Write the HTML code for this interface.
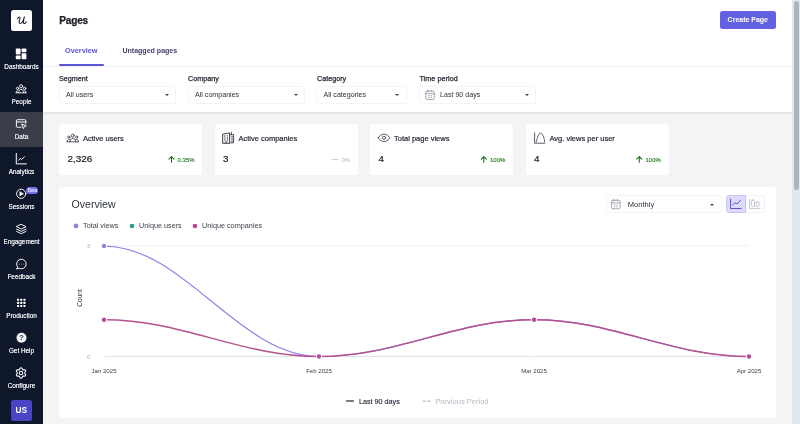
<!DOCTYPE html>
<html>
<head>
<meta charset="utf-8">
<title>Pages</title>
<style>
*{box-sizing:border-box;margin:0;padding:0}
html,body{width:800px;height:424px;overflow:hidden;background:#f4f4f5;font-family:"Liberation Sans",sans-serif;color:#1f2430}
body{position:relative}
.abs{position:absolute}
/* sidebar */
#side{position:absolute;left:0;top:0;width:43px;height:424px;background:#0f172a}
#logo{position:absolute;left:11.1px;top:10px;width:20.6px;height:20.7px;background:#fff;border-radius:2.5px}
.nav{position:absolute;left:0;width:43px;text-align:center;color:#fff;font-size:6.4px;font-weight:bold;line-height:8px;white-space:nowrap}
.nav svg{position:absolute;left:50%;transform:translateX(-50%)}
.nav span{position:absolute;left:0;width:43px;text-align:center}
.nl{position:absolute;left:-10px;width:63px;text-align:center;color:#e9ebef;font-size:6.4px;line-height:9px;white-space:nowrap;text-shadow:0 0 .3px #e9ebef}
#active{position:absolute;left:0;top:112px;width:43px;height:35px;background:#3a3e48}
/* header */
#head{position:absolute;left:43px;top:0;width:749px;height:112px;background:#fff;box-shadow:0 1px 2.5px rgba(0,0,0,.1)}
#title{position:absolute;left:59.3px;top:14.1px;font-size:10.1px;font-weight:bold;line-height:14px;color:#1a1d26;letter-spacing:-.2px;-webkit-text-stroke:.25px #1a1d26}
#create{position:absolute;left:720px;top:11px;width:56px;height:17.5px;background:#6361e2;border-radius:2.5px;color:#fff;font-size:7px;font-weight:bold;text-align:center;line-height:17.5px}
.tab{position:absolute;top:45.8px;font-size:7.3px;font-weight:bold;line-height:10px;white-space:nowrap}
#tabline{position:absolute;left:59px;top:64px;width:45px;height:2px;background:#5b57d6;border-radius:1px}
#hr{position:absolute;left:43px;top:66px;width:749px;height:1px;background:#f0f1f4}
.lbl{position:absolute;top:73.9px;font-size:7.2px;line-height:10px;color:#1f2430;white-space:nowrap;-webkit-text-stroke:.25px #1f2430}
.sel{position:absolute;top:86px;height:17.6px;border:1px solid #f3f4f7;border-radius:2.5px;background:#fff;font-size:7.1px;line-height:16.8px;color:#2a2f3a;white-space:nowrap}
.sel .t{position:absolute;top:0}
.caret{position:absolute;width:0;height:0;border-left:2.2px solid transparent;border-right:2.2px solid transparent;border-top:2.4px solid #3a3f4a}
/* cards */
.card{position:absolute;top:124.15px;width:143.4px;height:50.85px;background:#fff;border-radius:3px;}
.card .h{position:absolute;top:9.6px;font-size:7.5px;line-height:10px;color:#1f2430;white-space:nowrap;-webkit-text-stroke:.2px #1f2430}
.card .v{position:absolute;left:8.6px;top:29.1px;font-size:9.9px;line-height:12px;color:#1a1d26;-webkit-text-stroke:.2px #1a1d26}
.card .d{position:absolute;top:31.5px;font-size:6px;line-height:8px;color:#2c802c;white-space:nowrap;-webkit-text-stroke:.15px #2c802c}
.lg{position:absolute;top:221px;font-size:7.25px;line-height:10px;color:#3a3f4a;white-space:nowrap}
#ov{position:absolute;left:59px;top:187.2px;width:717.3px;height:231px;background:#fff;border-radius:3px}
</style>
</head>
<body>
<div id="root" style="position:absolute;left:0;top:0;width:800px;height:424px;will-change:transform">
<div id="side">
  <div id="logo"></div>
  <div id="active"></div>
  <svg class="abs" style="left:0;top:0" width="43" height="424" viewBox="0 0 43 424" fill="none" stroke="#fff" stroke-width="1" stroke-linecap="round" stroke-linejoin="round">
    <path d="M17.6 18.8 C18 17.5 19.2 16.7 19.9 17.3 C20.7 18 19.1 20.4 19.1 22 C19.1 23.5 20.3 23.8 21.3 23.1 C22.7 22.1 23.8 19.4 24.4 16.9 C23.7 19.5 22.7 23.5 24.1 23.5 C24.9 23.5 25.6 22.9 26.2 21.9" stroke="#161b2c" stroke-width="1.05" fill="none"/>
    <!-- dashboards -->
    <g fill="#fff" stroke="none">
      <rect x="15.8" y="48.4" width="4.8" height="6" rx=".8"/>
      <rect x="15.8" y="55.4" width="4.8" height="3.8" rx=".8"/>
      <rect x="21.6" y="48.4" width="4.8" height="3.8" rx=".8"/>
      <rect x="21.6" y="53.2" width="4.8" height="6" rx=".8"/>
    </g>
    <!-- people -->
    <g stroke-width=".9">
      <circle cx="21.1" cy="86.3" r="1.55"/>
      <circle cx="17.6" cy="88.4" r="1.2"/>
      <circle cx="24.6" cy="88.4" r="1.2"/>
      <path d="M18.7 92.7 C18.7 90.3 19.7 89.4 21.1 89.4 C22.5 89.4 23.5 90.3 23.5 92.7"/>
      <path d="M16.2 92.7 C16.2 91.2 16.8 90.7 17.6 90.7 M26 92.7 C26 91.2 25.4 90.7 24.6 90.7"/>
      <path d="M16.1 92.8 H26.1"/>
    </g>
    <!-- data -->
    <g stroke-width=".95">
      <path d="M21 127.3 H17.4 a1 1 0 0 1 -1 -1 V120.7 a1 1 0 0 1 1 -1 H24.8 a1 1 0 0 1 1 1 V123.4"/>
      <path d="M16.4 122 H25.8"/>
      <path d="M22 124.2 L26.3 125.7 L24.4 126.4 L23.6 128.2 Z"/>
    </g>
    <!-- analytics -->
    <g stroke-width="1">
      <path d="M16.3 153.4 V163.9 H26.4"/>
      <path d="M18.7 160.2 L20.3 158.3 L21.6 159.6 L24.5 156.7" stroke-width="1"/>
    </g>
    <!-- sessions -->
    <circle cx="21.2" cy="193.8" r="4.6" stroke-width=".95"/>
    <path d="M19.9 191.7 L23.6 193.8 L19.9 195.9 Z" fill="#fff" stroke-width=".4"/>
    <!-- engagement -->
    <g stroke-width=".95">
      <path d="M21.3 224.4 L26 226.7 L21.3 229 L16.6 226.7 Z"/>
      <path d="M16.6 229.1 L21.3 231.4 L26 229.1"/>
      <path d="M16.6 231.4 L21.3 233.7 L26 231.4"/>
    </g>
    <!-- feedback -->
    <path d="M17.6 267 A4.8 4.8 0 1 1 19.2 268.3 L16.7 268.9 Z" stroke-width=".95"/>
    <g fill="#9aa0ad" stroke="none"><circle cx="19.6" cy="264" r=".55"/><circle cx="21.5" cy="264" r=".55"/><circle cx="23.4" cy="264" r=".55"/></g>
    <!-- production -->
    <g fill="#fff" stroke="none">
      <rect x="17" y="298.7" width="2.1" height="2.1" rx=".4"/><rect x="20.2" y="298.7" width="2.1" height="2.1" rx=".4"/><rect x="23.4" y="298.7" width="2.1" height="2.1" rx=".4"/>
      <rect x="17" y="301.8" width="2.1" height="2.1" rx=".4"/><rect x="20.2" y="301.8" width="2.1" height="2.1" rx=".4"/><rect x="23.4" y="301.8" width="2.1" height="2.1" rx=".4"/>
      <rect x="17" y="304.9" width="2.1" height="2.1" rx=".4"/><rect x="20.2" y="304.9" width="2.1" height="2.1" rx=".4"/><rect x="23.4" y="304.9" width="2.1" height="2.1" rx=".4"/>
    </g>
    <!-- help -->
    <circle cx="21.5" cy="337.8" r="5" fill="#f1f2f4" stroke="none"/>
    <!-- gear -->
    <g stroke-width="1.05" transform="translate(0 .2)">
      <path d="M21.00 367.60 L21.09 367.60 L21.18 367.62 L21.27 367.64 L21.36 367.68 L21.44 367.72 L21.53 367.77 L21.61 367.83 L21.69 367.90 L21.77 367.97 L21.84 368.05 L21.91 368.13 L21.97 368.22 L22.04 368.31 L22.10 368.41 L22.15 368.50 L22.20 368.60 L22.26 368.69 L22.30 368.79 L22.35 368.88 L22.39 368.97 L22.44 369.06 L22.48 369.14 L22.52 369.22 L22.56 369.29 L22.61 369.36 L22.65 369.42 L22.70 369.47 L22.74 369.52 L22.80 369.56 L22.85 369.60 L22.91 369.62 L22.97 369.65 L23.04 369.67 L23.11 369.68 L23.18 369.69 L23.26 369.69 L23.34 369.69 L23.43 369.69 L23.52 369.68 L23.62 369.68 L23.72 369.67 L23.82 369.67 L23.93 369.66 L24.04 369.66 L24.15 369.65 L24.26 369.65 L24.37 369.66 L24.48 369.67 L24.59 369.68 L24.70 369.70 L24.80 369.72 L24.90 369.75 L25.00 369.79 L25.09 369.83 L25.18 369.88 L25.26 369.93 L25.33 369.99 L25.40 370.05 L25.45 370.12 L25.50 370.20 L25.54 370.28 L25.58 370.37 L25.60 370.46 L25.62 370.55 L25.62 370.64 L25.62 370.74 L25.61 370.84 L25.59 370.95 L25.57 371.05 L25.53 371.15 L25.50 371.25 L25.45 371.35 L25.40 371.45 L25.35 371.55 L25.30 371.65 L25.24 371.74 L25.18 371.83 L25.13 371.92 L25.07 372.01 L25.01 372.09 L24.96 372.17 L24.91 372.25 L24.86 372.33 L24.82 372.40 L24.79 372.47 L24.76 372.54 L24.73 372.60 L24.71 372.67 L24.70 372.74 L24.70 372.80 L24.70 372.86 L24.71 372.93 L24.73 373.00 L24.76 373.06 L24.79 373.13 L24.82 373.20 L24.86 373.27 L24.91 373.35 L24.96 373.43 L25.01 373.51 L25.07 373.59 L25.13 373.68 L25.18 373.77 L25.24 373.86 L25.30 373.95 L25.35 374.05 L25.40 374.15 L25.45 374.25 L25.50 374.35 L25.53 374.45 L25.57 374.55 L25.59 374.65 L25.61 374.76 L25.62 374.86 L25.62 374.96 L25.62 375.05 L25.60 375.14 L25.58 375.23 L25.54 375.32 L25.50 375.40 L25.45 375.48 L25.40 375.55 L25.33 375.61 L25.26 375.67 L25.18 375.72 L25.09 375.77 L25.00 375.81 L24.90 375.85 L24.80 375.88 L24.70 375.90 L24.59 375.92 L24.48 375.93 L24.37 375.94 L24.26 375.95 L24.15 375.95 L24.04 375.94 L23.93 375.94 L23.82 375.93 L23.72 375.93 L23.62 375.92 L23.52 375.92 L23.43 375.91 L23.34 375.91 L23.26 375.91 L23.18 375.91 L23.11 375.92 L23.04 375.93 L22.97 375.95 L22.91 375.98 L22.85 376.00 L22.80 376.04 L22.74 376.08 L22.70 376.13 L22.65 376.18 L22.61 376.24 L22.56 376.31 L22.52 376.38 L22.48 376.46 L22.44 376.54 L22.39 376.63 L22.35 376.72 L22.30 376.81 L22.26 376.91 L22.20 377.00 L22.15 377.10 L22.10 377.19 L22.04 377.29 L21.97 377.38 L21.91 377.47 L21.84 377.55 L21.77 377.63 L21.69 377.70 L21.61 377.77 L21.53 377.83 L21.44 377.88 L21.36 377.92 L21.27 377.96 L21.18 377.98 L21.09 378.00 L21.00 378.00 L20.91 378.00 L20.82 377.98 L20.73 377.96 L20.64 377.92 L20.56 377.88 L20.47 377.83 L20.39 377.77 L20.31 377.70 L20.23 377.63 L20.16 377.55 L20.09 377.47 L20.03 377.38 L19.96 377.29 L19.90 377.19 L19.85 377.10 L19.80 377.00 L19.74 376.91 L19.70 376.81 L19.65 376.72 L19.61 376.63 L19.56 376.54 L19.52 376.46 L19.48 376.38 L19.44 376.31 L19.39 376.24 L19.35 376.18 L19.30 376.13 L19.26 376.08 L19.20 376.04 L19.15 376.00 L19.09 375.98 L19.03 375.95 L18.96 375.93 L18.89 375.92 L18.82 375.91 L18.74 375.91 L18.66 375.91 L18.57 375.91 L18.48 375.92 L18.38 375.92 L18.28 375.93 L18.18 375.93 L18.07 375.94 L17.96 375.94 L17.85 375.95 L17.74 375.95 L17.63 375.94 L17.52 375.93 L17.41 375.92 L17.30 375.90 L17.20 375.88 L17.10 375.85 L17.00 375.81 L16.91 375.77 L16.82 375.72 L16.74 375.67 L16.67 375.61 L16.60 375.55 L16.55 375.48 L16.50 375.40 L16.46 375.32 L16.42 375.23 L16.40 375.14 L16.38 375.05 L16.38 374.96 L16.38 374.86 L16.39 374.76 L16.41 374.65 L16.43 374.55 L16.47 374.45 L16.50 374.35 L16.55 374.25 L16.60 374.15 L16.65 374.05 L16.70 373.95 L16.76 373.86 L16.82 373.77 L16.87 373.68 L16.93 373.59 L16.99 373.51 L17.04 373.43 L17.09 373.35 L17.14 373.27 L17.18 373.20 L17.21 373.13 L17.24 373.06 L17.27 373.00 L17.29 372.93 L17.30 372.86 L17.30 372.80 L17.30 372.74 L17.29 372.67 L17.27 372.60 L17.24 372.54 L17.21 372.47 L17.18 372.40 L17.14 372.33 L17.09 372.25 L17.04 372.17 L16.99 372.09 L16.93 372.01 L16.87 371.92 L16.82 371.83 L16.76 371.74 L16.70 371.65 L16.65 371.55 L16.60 371.45 L16.55 371.35 L16.50 371.25 L16.47 371.15 L16.43 371.05 L16.41 370.95 L16.39 370.84 L16.38 370.74 L16.38 370.64 L16.38 370.55 L16.40 370.46 L16.42 370.37 L16.46 370.28 L16.50 370.20 L16.55 370.12 L16.60 370.05 L16.67 369.99 L16.74 369.93 L16.82 369.88 L16.91 369.83 L17.00 369.79 L17.10 369.75 L17.20 369.72 L17.30 369.70 L17.41 369.68 L17.52 369.67 L17.63 369.66 L17.74 369.65 L17.85 369.65 L17.96 369.66 L18.07 369.66 L18.18 369.67 L18.28 369.67 L18.38 369.68 L18.48 369.68 L18.57 369.69 L18.66 369.69 L18.74 369.69 L18.82 369.69 L18.89 369.68 L18.96 369.67 L19.03 369.65 L19.09 369.62 L19.15 369.60 L19.20 369.56 L19.26 369.52 L19.30 369.47 L19.35 369.42 L19.39 369.36 L19.44 369.29 L19.48 369.22 L19.52 369.14 L19.56 369.06 L19.61 368.97 L19.65 368.88 L19.70 368.79 L19.74 368.69 L19.80 368.60 L19.85 368.50 L19.90 368.41 L19.96 368.31 L20.03 368.22 L20.09 368.13 L20.16 368.05 L20.23 367.97 L20.31 367.90 L20.39 367.83 L20.47 367.77 L20.56 367.72 L20.64 367.68 L20.73 367.64 L20.82 367.62 L20.91 367.60 L21.00 367.60 Z"/>
      <circle cx="21" cy="372.8" r="1.7"/>
    </g>
  </svg>
  <span class="abs" style="left:18px;top:332.6px;width:7px;text-align:center;font-size:8px;font-weight:bold;line-height:10px;color:#333846">?</span>
  <div class="abs" style="left:26.3px;top:186.5px;width:12.2px;height:7.6px;border-radius:3.8px;background:#7670f2;color:#fff;font-size:4.6px;line-height:7.6px;text-align:center">Beta</div>
  <div class="nl" style="top:61.7px">Dashboards</div>
  <div class="nl" style="top:96.7px">People</div>
  <div class="nl" style="top:131.7px">Data</div>
  <div class="nl" style="top:166.7px">Analytics</div>
  <div class="nl" style="top:201.7px">Sessions</div>
  <div class="nl" style="top:236.7px">Engagement</div>
  <div class="nl" style="top:271.7px">Feedback</div>
  <div class="nl" style="top:310.7px">Production</div>
  <div class="nl" style="top:345.7px">Get Help</div>
  <div class="nl" style="top:380.7px">Configure</div>
  <div class="abs" style="left:11px;top:400px;width:20.7px;height:20.8px;border-radius:2.5px;background:#4a45c6;color:#fff;font-weight:bold;font-size:8.3px;line-height:20.6px;text-align:center">US</div>
</div>
<div id="head"></div>
<div id="title">Pages</div>
<div id="create"><span style="display:inline-block;font-size:7.9px;transform:scaleX(.885);transform-origin:50% 50%;white-space:nowrap">Create Page</span></div>
<div class="tab" style="left:65px;color:#5b57d6">Overview</div>
<div class="tab" style="left:122.4px;color:#443f6c;font-size:7.05px">Untagged pages</div>
<div id="hr"></div>
<div id="tabline"></div>

<div class="lbl" style="left:59px">Segment</div>
<div class="lbl" style="left:188px">Company</div>
<div class="lbl" style="left:317px">Category</div>
<div class="lbl" style="left:419.4px;letter-spacing:.08px">Time period</div>
<div class="sel" style="left:58.5px;width:117.5px"><span class="t" style="left:6.5px">All users</span><i class="caret" style="left:105px;top:7px"></i></div>
<div class="sel" style="left:187.5px;width:117.5px"><span class="t" style="left:6.5px">All companies</span><i class="caret" style="left:105px;top:7px"></i></div>
<div class="sel" style="left:316px;width:91px"><span class="t" style="left:6.5px">All categories</span><i class="caret" style="left:78px;top:7px"></i></div>
<div class="sel" style="left:418.5px;width:117.5px"><span class="t" style="left:20.5px">Last 90 days</span><i class="caret" style="left:105px;top:7px"></i></div>

<div class="card" style="left:59px"><span class="h" style="left:24px">Active users</span><span class="v">2,326</span><span class="d" style="left:118.5px">0.35%</span></div>
<div class="card" style="left:214.5px"><span class="h" style="left:24px">Active companies</span><span class="v">3</span><span class="d" style="left:127px;color:#b3b8c0;-webkit-text-stroke:0">0%</span></div>
<div class="card" style="left:370px"><span class="h" style="left:24px">Total page views</span><span class="v">4</span><span class="d" style="left:120px">100%</span></div>
<div class="card" style="left:525.5px"><span class="h" style="left:24px">Avg. views per user</span><span class="v">4</span><span class="d" style="left:120px">100%</span></div>


<svg class="abs" style="left:0;top:0" width="800" height="424" viewBox="0 0 800 424" fill="none" stroke="#3b404b" stroke-width=".85" stroke-linecap="round" stroke-linejoin="round">
  <!-- people -->
  <circle cx="72.8" cy="135.6" r="1.5"/>
  <circle cx="68.9" cy="137.1" r="1.05"/>
  <circle cx="76.7" cy="137.1" r="1.05"/>
  <path d="M69.9 141.8 C69.9 139.3 71.2 138.4 72.8 138.4 C74.4 138.4 75.7 139.3 75.7 141.8"/>
  <path d="M67.2 141.8 C67.2 140 67.9 139.3 68.9 139.3 C69.6 139.3 70 139.5 70.3 139.9 M78.4 141.8 C78.4 140 77.7 139.3 76.7 139.3 C76 139.3 75.6 139.5 75.3 139.9"/>
  <path d="M67.1 141.8 H78.5"/>
  <!-- building -->
  <path d="M222.7 142.9 V134.2 L229.6 132.9 V142.9 Z" stroke-width="1"/>
  <path d="M229.6 134.6 H233.6 V142.9 H229.6 M231.5 134.6 V132.3"/>
  <g stroke="none" fill="#2f343f"><circle cx="224.9" cy="136" r=".65"/><circle cx="227.4" cy="135.8" r=".65"/><circle cx="224.9" cy="138" r=".65"/><circle cx="227.4" cy="138" r=".65"/><circle cx="224.9" cy="140" r=".65"/><circle cx="227.4" cy="140" r=".65"/></g>
  <path d="M225.3 142.9 V141.7 H227 V142.9" stroke-width=".7"/>
  <path d="M231.3 136.3 H233.4 M231.3 138 H233.4 M231.3 139.7 H233.4 M231.3 141.4 H233.4" stroke-width=".7"/>
  <!-- eye -->
  <path d="M378.3 137.8 C380 135 382 134.1 384 134.1 C386 134.1 388 135 389.7 137.8 C388 140.6 386 141.5 384 141.5 C382 141.5 380 140.6 378.3 137.8 Z"/>
  <circle cx="384" cy="137.8" r="1.6"/>
  <!-- avg -->
  <path d="M534.6 132.8 V143.2 H544.7"/>
  <path d="M536.3 141.9 C536.6 139.5 537.2 139.2 537.6 137.4 C538.3 134.6 539.3 133.2 540.5 133.2 C541.8 133.2 542.8 134.6 543.6 137 C544.2 139 544.6 140 544.7 142"/>
  <circle cx="540.7" cy="138" r=".45" fill="#9aa0ad" stroke="none"/>
  <path d="M171.5 162.3 V156.7 M169.0 159.2 L171.5 156.6 L174.0 159.2" stroke="#1d6b1d" stroke-width="1.05" fill="none" stroke-linecap="round" stroke-linejoin="round"/><path d="M483.8 162.3 V156.7 M481.3 159.2 L483.8 156.6 L486.3 159.2" stroke="#1d6b1d" stroke-width="1.05" fill="none" stroke-linecap="round" stroke-linejoin="round"/><path d="M639.3 162.3 V156.7 M636.8 159.2 L639.3 156.6 L641.8 159.2" stroke="#1d6b1d" stroke-width="1.05" fill="none" stroke-linecap="round" stroke-linejoin="round"/>
  <path d="M332.6 159.6 H337.8" stroke="#c3c7cf" stroke-width="1"/>
</svg>
<div id="ov"></div>
<div id="ovt" class="abs" style="left:71.5px;top:197px;font-size:10.6px;line-height:14px;color:#2f3540">Overview</div>
<!-- monthly select -->
<div class="sel" style="left:605.5px;top:195.3px;width:116px;height:17.6px;font-size:7.55px"><span class="t" style="left:21.3px;top:.7px">Monthly</span><i class="caret" style="left:103.2px;top:7.6px;border-left-width:2.5px;border-right-width:2.5px;border-top-width:2.7px"></i></div>
<div class="abs" style="left:725.7px;top:195px;width:20.4px;height:17.9px;background:#dddbfb;border:1px solid #c6c2f6;border-radius:2.5px 0 0 2.5px"></div>
<div class="abs" style="left:746px;top:195px;width:19px;height:17.9px;background:#fff;border:1px solid #f0f1f4;border-left:none;border-radius:0 2.5px 2.5px 0"></div>
<div class="lg" style="left:83px">Total views</div>
<div class="lg" style="left:139px">Unique users</div>
<div class="lg" style="left:202px">Unique companies</div>
<svg class="abs" style="left:0;top:0" width="800" height="424" viewBox="0 0 800 424">
  <circle cx="76" cy="226" r="2.4" fill="#9a7fe0"/>
  <circle cx="132" cy="226" r="2.3" fill="#2f9a8f"/>
  <circle cx="195" cy="226" r="2.3" fill="#c2408f"/>
  <line x1="104" y1="246" x2="749" y2="246" stroke="#eef0f2" stroke-width="1"/>
  <line x1="104" y1="356.4" x2="749" y2="356.4" stroke="#e1e2e6" stroke-width="1"/>
  <path d="M104 357 v2.5 M319 357 v2.5 M534 357 v2.5 M749 357 v2.5" stroke="#e9eaee" stroke-width=".8"/>
  <path d="M104,246 C183.6,246 239.4,356.5 319,356.5 C398.6,356.5 454.4,319.7 534,319.7 C613.5,319.7 669.5,356.5 749,356.5" fill="none" stroke="#9a80e4" stroke-width="1.25"/>
  <path d="M104,319.7 C183.6,319.7 239.4,356.5 319,356.5 C398.6,356.5 454.4,319.7 534,319.7 C613.5,319.7 669.5,356.5 749,356.5" fill="none" stroke="#b3528f" stroke-width="1.5"/>
  <g fill="#fff"><circle cx="104" cy="246" r="3.1"/><circle cx="104" cy="319.7" r="3.1"/><circle cx="319" cy="356.5" r="3.1"/><circle cx="534" cy="319.7" r="3.1"/><circle cx="749" cy="356.5" r="3.1"/></g>
  <circle cx="104" cy="246" r="2.2" fill="#9a7fe0"/>
  <g fill="#b8489a"><circle cx="104" cy="319.7" r="2.2"/><circle cx="319" cy="356.5" r="2.2"/><circle cx="534" cy="319.7" r="2.2"/><circle cx="749" cy="356.5" r="2.2"/></g>
  <g font-family="Liberation Sans, sans-serif" font-size="6.1" fill="#3a3f4a" text-anchor="middle">
    <text x="104" y="373">Jan 2025</text><text x="319" y="373">Feb 2025</text><text x="534" y="373">Mar 2025</text><text x="749" y="373">Apr 2025</text>
  </g>
  <g font-family="Liberation Sans, sans-serif" font-size="6.2" fill="#aeb2ba" text-anchor="end"><text x="90.5" y="248.2">3</text><text x="90.5" y="358.8">0</text></g>
  <text font-family="Liberation Sans, sans-serif" font-size="6.6" fill="#2f3540" text-anchor="middle" transform="translate(81.5,298) rotate(-90)">Count</text>
  <rect x="346" y="400.2" width="8" height="1.6" rx=".6" fill="#4a4f5a"/>
  <rect x="422.5" y="400.4" width="3.2" height="1.3" rx=".5" fill="#b9bdc6"/><rect x="427.2" y="400.4" width="3.2" height="1.3" rx=".5" fill="#b9bdc6"/>
</svg>
<div class="abs" style="left:359px;top:396.7px;font-size:7.2px;line-height:10px;color:#2a2f3a;white-space:nowrap;-webkit-text-stroke:.15px #2a2f3a">Last 90 days</div>
<div class="abs" style="left:435.3px;top:396.7px;font-size:7.55px;line-height:10px;color:#b3b8c2;white-space:nowrap">Previous Period</div>

<svg class="abs" style="left:0;top:0" width="800" height="424" viewBox="0 0 800 424" fill="none">
  <g transform="translate(425.3,90)" stroke="#8d93a3" stroke-width=".8" fill="none" stroke-linecap="round" stroke-linejoin="round"><rect x=".4" y="1.1" width="8.6" height="8.5" rx="1.5"/><path d="M.4 3.6 H9 M3 .3 V1.6 M6.4 .3 V1.6"/><g stroke="none" fill="#9aa0ae"><rect x="2.9" y="5.1" width="1.2" height="1.1"/><rect x="5.3" y="5.1" width="1.2" height="1.1"/><rect x="2.9" y="7" width="1.2" height="1.1"/><rect x="5.3" y="7" width="1.2" height="1.1"/></g></g>
  <g transform="translate(611.1,199.2)" stroke="#8d93a3" stroke-width=".8" fill="none" stroke-linecap="round" stroke-linejoin="round"><rect x=".4" y="1.1" width="8.6" height="8.5" rx="1.5"/><path d="M.4 3.6 H9 M3 .3 V1.6 M6.4 .3 V1.6"/><g stroke="none" fill="#9aa0ae"><rect x="2.9" y="5.1" width="1.2" height="1.1"/><rect x="5.3" y="5.1" width="1.2" height="1.1"/><rect x="2.9" y="7" width="1.2" height="1.1"/><rect x="5.3" y="7" width="1.2" height="1.1"/></g></g>
  <g stroke="#5a53d4" stroke-width="1.05" stroke-linecap="round" stroke-linejoin="round">
    <path d="M730.6 198.9 V208.4 H741"/>
    <path d="M733 205 L735 202.6 L737.2 204 L740.7 200.1" stroke-width=".95"/>
  </g>
  <g stroke="#b4b6c6" stroke-width=".8" stroke-linecap="round" stroke-linejoin="round">
    <path d="M749.6 199.5 V208.4 H760"/>
    <rect x="751.6" y="200.1" width="2.9" height="6.4" rx=".8"/>
    <rect x="756.1" y="202" width="2.9" height="4.5" rx=".8"/>
  </g>
</svg>
<!-- scrollbar -->
<div class="abs" style="left:792px;top:0;width:8px;height:424px;background:#e3e8ee"></div>
<div class="abs" style="left:794px;top:.8px;width:4.6px;height:188.8px;background:#b0b5bc;border-radius:2.3px"></div>

</div>
</body>
</html>
